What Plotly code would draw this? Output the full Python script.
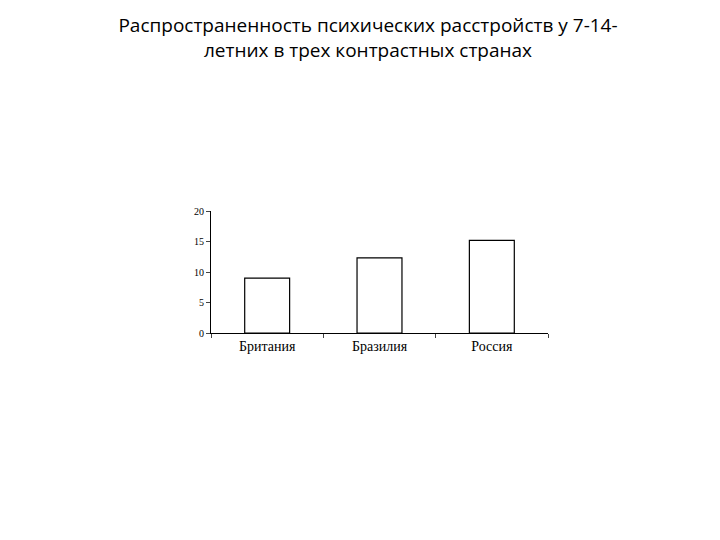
import plotly.graph_objects as go

categories = ["Британия", "Бразилия", "Россия"]
values = [9.0, 12.3, 15.2]
y_ticks = [0, 5, 10, 15, 20]

fig = go.Figure(go.Bar(x=categories, y=values, marker=dict(color="white", line=dict(color="black", width=1.2)), width=0.4))
fig.update_layout(
    width=720, height=540, paper_bgcolor="white", plot_bgcolor="white",
    margin=dict(l=203, r=180, t=203, b=215), showlegend=False,
    title=dict(text="Распространенность психических расстройств у 7-14-<br>летних в трех контрастных странах",
               x=0.5, xanchor="center", y=0.955, yanchor="top",
               font=dict(family="Open Sans", size=19, color="black")),
)
fig.update_xaxes(showline=True, linecolor="black", ticks="outside", tickson="boundaries", ticklen=4,
                 automargin=False,
                 tickfont=dict(family="Liberation Serif", size=14, color="black"), range=[-0.5, 2.5])
fig.update_yaxes(range=[0, 20], tickvals=y_ticks, showline=True, linecolor="black", ticks="outside", ticklen=4,
                 automargin=False,
                 showgrid=False, zeroline=False, tickfont=dict(family="Liberation Serif", size=10, color="black"))
fig.write_html("out.html")
